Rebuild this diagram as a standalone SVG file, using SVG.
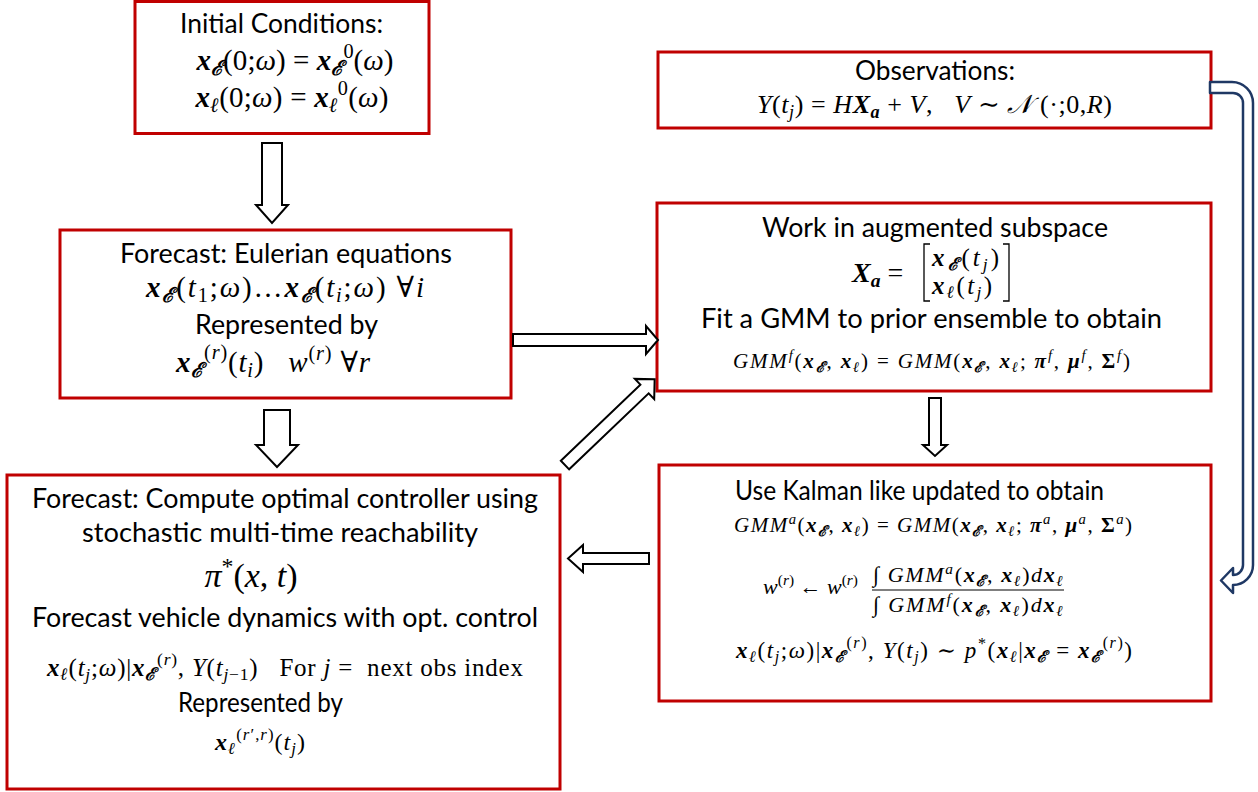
<svg xmlns="http://www.w3.org/2000/svg" width="1258" height="792" viewBox="0 0 1258 792">
<style>
.box{fill:#fff;stroke:#c00000;stroke-width:3}
.arr{fill:#fff;stroke:#000;stroke-width:2;stroke-linejoin:miter}
.curve{fill:#fff;stroke:#1f3864;stroke-width:2.5;stroke-linejoin:round}
.t{font-family:Lato,"Noto Sans",sans-serif;font-size:26px;fill:#000;text-anchor:middle}
.m{font-family:"Liberation Serif","DejaVu Serif",serif;fill:#000;text-anchor:middle}
.b{font-weight:bold;font-style:italic}
.i{font-style:italic}
.s{font-size:0.7em}
.br{fill:none;stroke:#000;stroke-width:1.3}
</style>
<rect width="1258" height="792" fill="#fff"/>

<g id="initial">
<rect class="box" x="135" y="1.5" width="294" height="132"/>
<text class="t" x="281.5" y="33" textLength="203" lengthAdjust="spacingAndGlyphs">Initial Conditions:</text>
<text class="m" x="295" y="70" font-size="29" textLength="197"><tspan class="b">x</tspan><tspan class="b s" dy="5">ℰ</tspan><tspan dy="-5">(0;</tspan><tspan class="i">ω</tspan><tspan>) = </tspan><tspan class="b">x</tspan><tspan class="b s" dy="5">ℰ</tspan><tspan class="s" dy="-17">0</tspan><tspan dy="12">(</tspan><tspan class="i">ω</tspan><tspan>)</tspan></text>
<text class="m" x="292" y="107" font-size="29" textLength="193"><tspan class="b">x</tspan><tspan class="b s" dy="5">ℓ</tspan><tspan dy="-5">(0;</tspan><tspan class="i">ω</tspan><tspan>) = </tspan><tspan class="b">x</tspan><tspan class="b s" dy="5">ℓ</tspan><tspan class="s" dy="-17">0</tspan><tspan dy="12">(</tspan><tspan class="i">ω</tspan><tspan>)</tspan></text>
</g>

<g id="eulerian">
<rect class="box" x="60" y="230" width="451" height="168"/>
<text class="t" x="286" y="263" textLength="332" lengthAdjust="spacingAndGlyphs">Forecast: Eulerian equations</text>
<text class="m" x="285" y="297" font-size="29" textLength="278"><tspan class="b">x</tspan><tspan class="b s" dy="5">ℰ</tspan><tspan dy="-5">(</tspan><tspan class="i">t</tspan><tspan class="s" dy="5">1</tspan><tspan dy="-5">;</tspan><tspan class="i">ω</tspan><tspan>)…</tspan><tspan class="b">x</tspan><tspan class="b s" dy="5">ℰ</tspan><tspan dy="-5">(</tspan><tspan class="i">t</tspan><tspan class="i s" dy="5">i</tspan><tspan dy="-5">;</tspan><tspan class="i">ω</tspan><tspan>) ∀</tspan><tspan class="i">i</tspan></text>
<text class="t" x="286.5" y="334" textLength="183" lengthAdjust="spacingAndGlyphs">Represented by</text>
<text class="m" x="273" y="372" font-size="29" textLength="194"><tspan class="b">x</tspan><tspan class="b s" dy="5">ℰ</tspan><tspan class="s" dy="-18">(</tspan><tspan class="i s">r</tspan><tspan class="s">)</tspan><tspan dy="13">(</tspan><tspan class="i">t</tspan><tspan class="i s" dy="5">i</tspan><tspan dy="-5">)&#160;&#160;&#160;</tspan><tspan class="i">w</tspan><tspan class="s" dy="-12">(</tspan><tspan class="i s">r</tspan><tspan class="s">)</tspan><tspan dy="12"> ∀</tspan><tspan class="i">r</tspan></text>
</g>

<g id="observations">
<rect class="box" x="658" y="52" width="553" height="76"/>
<text class="t" x="935" y="80" textLength="160" lengthAdjust="spacingAndGlyphs">Observations:</text>
<text class="m" x="934.5" y="113" font-size="26" textLength="355"><tspan class="i">Y</tspan><tspan>(</tspan><tspan class="i">t</tspan><tspan class="i s" dy="5">j</tspan><tspan dy="-5">) = </tspan><tspan class="i">H</tspan><tspan class="b">X</tspan><tspan class="b s" dy="5">a</tspan><tspan dy="-5"> + </tspan><tspan class="i">V</tspan><tspan>,&#160;&#160;&#160;</tspan><tspan class="i">V</tspan><tspan> ∼ </tspan><tspan class="i">𝒩</tspan><tspan> (·;0,</tspan><tspan class="i">R</tspan><tspan>)</tspan></text>
</g>

<g id="augmented">
<rect class="box" x="657" y="203" width="554" height="188"/>
<text class="t" x="935" y="237" textLength="346" lengthAdjust="spacingAndGlyphs">Work in augmented subspace</text>
<text class="m" x="852" y="282" font-size="28" style="text-anchor:start"><tspan class="b">X</tspan><tspan class="b s" dy="5">a</tspan><tspan dy="-5"> =</tspan></text>
<path class="br" d="M930 244H924V301H930M1003 244H1009V301H1003"/>
<text class="m" x="932" y="266" font-size="25" style="text-anchor:start" textLength="67"><tspan class="b">x</tspan><tspan class="b s" dy="4">ℰ</tspan><tspan dy="-4">(</tspan><tspan class="i">t</tspan><tspan class="i s" dy="4">j</tspan><tspan dy="-4">)</tspan></text>
<text class="m" x="932" y="294" font-size="25" style="text-anchor:start" textLength="60"><tspan class="b">x</tspan><tspan class="b s" dy="4">ℓ</tspan><tspan dy="-4">(</tspan><tspan class="i">t</tspan><tspan class="i s" dy="4">j</tspan><tspan dy="-4">)</tspan></text>
<text class="t" x="931.5" y="328" textLength="461" lengthAdjust="spacingAndGlyphs">Fit a GMM to prior ensemble to obtain</text>
<text class="m" x="931.5" y="368" font-size="21" textLength="397"><tspan class="i">GMM</tspan><tspan class="i s" dy="-8">f</tspan><tspan dy="8">(</tspan><tspan class="b">x</tspan><tspan class="b s" dy="4">ℰ</tspan><tspan dy="-4">, </tspan><tspan class="b">x</tspan><tspan class="b s" dy="4">ℓ</tspan><tspan dy="-4">) = </tspan><tspan class="i">GMM</tspan><tspan>(</tspan><tspan class="b">x</tspan><tspan class="b s" dy="4">ℰ</tspan><tspan dy="-4">, </tspan><tspan class="b">x</tspan><tspan class="b s" dy="4">ℓ</tspan><tspan dy="-4">; </tspan><tspan class="b">π</tspan><tspan class="i s" dy="-8">f</tspan><tspan dy="8">, </tspan><tspan class="b">μ</tspan><tspan class="i s" dy="-8">f</tspan><tspan dy="8">, </tspan><tspan font-weight="bold">Σ</tspan><tspan class="i s" dy="-8">f</tspan><tspan dy="8">)</tspan></text>
</g>

<g id="kalman">
<rect class="box" x="659" y="465" width="552" height="236"/>
<text class="t" x="919.5" y="500" textLength="369" lengthAdjust="spacingAndGlyphs">Use Kalman like updated to obtain</text>
<text class="m" x="933" y="532" font-size="21" textLength="398"><tspan class="i">GMM</tspan><tspan class="i s" dy="-8">a</tspan><tspan dy="8">(</tspan><tspan class="b">x</tspan><tspan class="b s" dy="4">ℰ</tspan><tspan dy="-4">, </tspan><tspan class="b">x</tspan><tspan class="b s" dy="4">ℓ</tspan><tspan dy="-4">) = </tspan><tspan class="i">GMM</tspan><tspan>(</tspan><tspan class="b">x</tspan><tspan class="b s" dy="4">ℰ</tspan><tspan dy="-4">, </tspan><tspan class="b">x</tspan><tspan class="b s" dy="4">ℓ</tspan><tspan dy="-4">; </tspan><tspan class="b">π</tspan><tspan class="i s" dy="-8">a</tspan><tspan dy="8">, </tspan><tspan class="b">μ</tspan><tspan class="i s" dy="-8">a</tspan><tspan dy="8">, </tspan><tspan font-weight="bold">Σ</tspan><tspan class="i s" dy="-8">a</tspan><tspan dy="8">)</tspan></text>
<text class="m" x="858" y="594" font-size="22" style="text-anchor:end"><tspan class="i">w</tspan><tspan class="s" dy="-9">(</tspan><tspan class="i s">r</tspan><tspan class="s">)</tspan><tspan dy="9"> ← </tspan><tspan class="i">w</tspan><tspan class="s" dy="-9">(</tspan><tspan class="i s">r</tspan><tspan class="s">)</tspan></text>
<text class="m" x="968" y="582" font-size="22" textLength="190"><tspan>∫ </tspan><tspan class="i">GMM</tspan><tspan class="i s" dy="-8">a</tspan><tspan dy="8">(</tspan><tspan class="b">x</tspan><tspan class="b s" dy="4">ℰ</tspan><tspan dy="-4">, </tspan><tspan class="b">x</tspan><tspan class="b s" dy="4">ℓ</tspan><tspan dy="-4">)</tspan><tspan class="i">d</tspan><tspan class="b">x</tspan><tspan class="b s" dy="4">ℓ</tspan></text>
<line x1="872" y1="590" x2="1064" y2="590" stroke="#000" stroke-width="1.2"/>
<text class="m" x="968" y="612" font-size="22" textLength="190"><tspan>∫ </tspan><tspan class="i">GMM</tspan><tspan class="i s" dy="-8">f</tspan><tspan dy="8">(</tspan><tspan class="b">x</tspan><tspan class="b s" dy="4">ℰ</tspan><tspan dy="-4">, </tspan><tspan class="b">x</tspan><tspan class="b s" dy="4">ℓ</tspan><tspan dy="-4">)</tspan><tspan class="i">d</tspan><tspan class="b">x</tspan><tspan class="b s" dy="4">ℓ</tspan></text>
<text class="m" x="934" y="658" font-size="23" textLength="396"><tspan class="b">x</tspan><tspan class="b s" dy="4">ℓ</tspan><tspan dy="-4">(</tspan><tspan class="i">t</tspan><tspan class="i s" dy="4">j</tspan><tspan dy="-4">;</tspan><tspan class="i">ω</tspan><tspan>)|</tspan><tspan class="b">x</tspan><tspan class="b s" dy="4">ℰ</tspan><tspan class="s" dy="-14">(</tspan><tspan class="i s">r</tspan><tspan class="s">)</tspan><tspan dy="10">, </tspan><tspan class="i">Y</tspan><tspan>(</tspan><tspan class="i">t</tspan><tspan class="i s" dy="4">j</tspan><tspan dy="-4">) ∼ </tspan><tspan class="i">p</tspan><tspan class="s" dy="-9">*</tspan><tspan dy="9">(</tspan><tspan class="b">x</tspan><tspan class="b s" dy="4">ℓ</tspan><tspan dy="-4">|</tspan><tspan class="b">x</tspan><tspan class="b s" dy="4">ℰ</tspan><tspan dy="-4"> = </tspan><tspan class="b">x</tspan><tspan class="b s" dy="4">ℰ</tspan><tspan class="s" dy="-14">(</tspan><tspan class="i s">r</tspan><tspan class="s">)</tspan><tspan dy="10">)</tspan></text>
</g>

<g id="controller">
<rect class="box" x="7" y="475" width="553" height="314"/>
<text class="t" x="285" y="508" textLength="506" lengthAdjust="spacingAndGlyphs">Forecast: Compute optimal controller using</text>
<text class="t" x="280" y="542" textLength="396" lengthAdjust="spacingAndGlyphs">stochastic multi-time reachability</text>
<text class="m" x="251" y="587" font-size="34" textLength="93"><tspan class="i">π</tspan><tspan class="s" dy="-13">*</tspan><tspan dy="13">(</tspan><tspan class="i">x</tspan><tspan>, </tspan><tspan class="i">t</tspan><tspan>)</tspan></text>
<text class="t" x="285" y="627" textLength="506" lengthAdjust="spacingAndGlyphs">Forecast vehicle dynamics with opt. control</text>
<text class="m" x="285" y="676" font-size="25" textLength="476"><tspan class="b">x</tspan><tspan class="b s" dy="4">ℓ</tspan><tspan dy="-4">(</tspan><tspan class="i">t</tspan><tspan class="i s" dy="4">j</tspan><tspan dy="-4">;</tspan><tspan class="i">ω</tspan><tspan>)|</tspan><tspan class="b">x</tspan><tspan class="b s" dy="4">ℰ</tspan><tspan class="s" dy="-15">(</tspan><tspan class="i s">r</tspan><tspan class="s">)</tspan><tspan dy="11">, </tspan><tspan class="i">Y</tspan><tspan>(</tspan><tspan class="i">t</tspan><tspan class="s" dy="4"><tspan class="i">j</tspan>−1</tspan><tspan dy="-4">)&#160;&#160;&#160;For </tspan><tspan class="i">j</tspan><tspan> = &#160;next obs index</tspan></text>
<text class="t" x="260.5" y="712" textLength="165" lengthAdjust="spacingAndGlyphs">Represented by</text>
<text class="m" x="260" y="750" font-size="24" textLength="90"><tspan class="b">x</tspan><tspan class="b s" dy="4">ℓ</tspan><tspan class="s" dy="-14">(</tspan><tspan class="i s">r</tspan><tspan class="s">′,</tspan><tspan class="i s">r</tspan><tspan class="s">)</tspan><tspan dy="10">(</tspan><tspan class="i">t</tspan><tspan class="i s" dy="4">j</tspan><tspan dy="-4">)</tspan></text>
</g>

<g id="connectors">
<polygon class="arr" points="262,143 282,143 282,205 288,205 272,223 256,205 262,205"/>
<polygon class="arr" points="264,410 290,410 290,445 298,445 277,467 256,445 264,445"/>
<polygon class="arr" points="513,334 646,334 646,326 658,340 646,354 646,346 513,346"/>
<polygon class="arr" points="0,-6 110,-6 110,-14 124,0 110,14 110,6 0,6" transform="translate(565,465) rotate(-43.7)"/>
<polygon class="arr" points="929,398 941,398 941,445 947,445 935,456 923,445 929,445"/>
<polygon class="arr" points="649,553 583,553 583,545 568,558.5 583,572 583,564 649,564"/>
<path class="curve" d="M1210 82H1232A21 21 0 0 1 1253 103V565A20 20 0 0 1 1233 585V593L1221 580.5L1233 568V575A10 10 0 0 0 1243 565V103A10 10 0 0 0 1233 93H1210Z"/>
</g>
</svg>
